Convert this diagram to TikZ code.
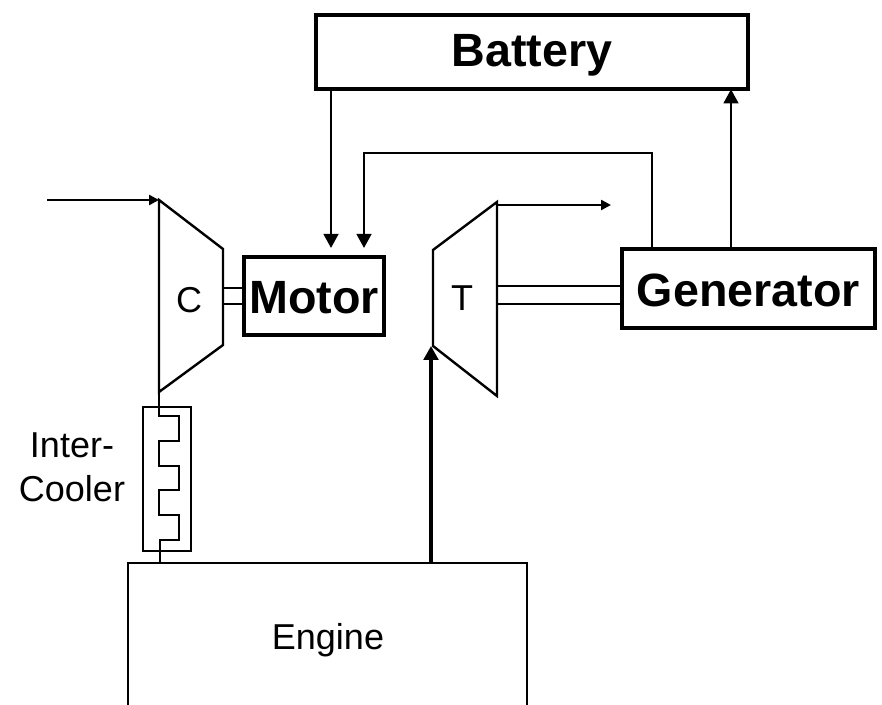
\documentclass[tikz,border=0pt]{standalone}
\usepackage{fontspec}
\setmainfont{Liberation Sans}
\usetikzlibrary{arrows.meta,positioning,calc}

\begin{document}
\begin{tikzpicture}[x=0.75pt,y=-0.75pt,>={Triangle[length=10.5pt,width=11pt]},
   line width=1.8pt,
   unit/.style={draw,line width=3pt,font=\fontsize{35}{40}\selectfont\bfseries,inner sep=0pt,outer sep=0pt,text depth=0pt},
   plain/.style={font=\fontsize{27}{33}\selectfont,align=center,inner sep=0pt,anchor=base},
   small/.style={-{Triangle[length=7.5pt,width=7.5pt]}},
   pipe/.style={line width=2.4pt}]
  \useasboundingbox (0,0) rectangle (882,705);
  % boxes
  \node[unit,text height=22.5pt,minimum width=324pt,minimum height=56pt] (battery) at (532,52) {Battery};
  \node[unit,text height=27pt,minimum width=105pt,minimum height=58pt] (motor) at (314,296) {Motor};
  \node[unit,text height=27.75pt,minimum width=190pt,minimum height=59pt] (generator) at (748.5,288.5) {Generator};
  \node[plain] (comp) at (189,313) {C};
  \node[plain] (turb) at (462,311) {T};
  \node[plain] (cooler) at (72,502) {Inter-\\Cooler};
  \node[plain] (engine) at (328,649) {Engine};
  % compressor and turbine
  \coordinate (compa) at (159,200);
  \coordinate (compb) at (223,249);
  \coordinate (compc) at (223,345);
  \coordinate (compd) at (159,392);
  \coordinate (turba) at (497,202);
  \coordinate (turbb) at (433,250);
  \coordinate (turbc) at (433,346);
  \coordinate (turbd) at (497,396);
  \draw (compa) -- (compb) -- (compc) -- (compd) -- cycle;
  \draw (turba) -- (turbb) -- (turbc) -- (turbd) -- cycle;
  % engine, open at the bottom
  \coordinate (engl) at (128,705);
  \coordinate (engr) at (527,705);
  \draw (engl) |- (engr |- 0,563) coordinate (engtr) -- (engr);
  % intercooler
  \node[draw,minimum width=36pt,minimum height=108pt,inner sep=0pt] (ic) at (167,479) {};
  \draw (compd) -- (159,416) -- (179,416) -- (179,441) -- (159,441) -- (159,466)
    -- (179,466) -- (179,490) -- (159,490) -- (159,515) -- (179,515) -- (179,540)
    -- (160,540) -- (160,563);
  % shafts
  \draw (223,288) -- (motor.west |- 0,288);
  \draw (223,304) -- (motor.west |- 0,304);
  \draw (497,286) -- (generator.west |- 0,286);
  \draw (497,304) -- (generator.west |- 0,304);
  % flows
  \coordinate (airin) at (47,200);
  \coordinate (exhaust) at (611,205);
  \coordinate (motorl) at (331,248);
  \coordinate (motorr) at (364,248);
  \draw[small] (airin) -- (compa);
  \draw[small] (497,205) -- (exhaust);
  \draw[->,pipe] (431,563) -- (431,346);
  \draw[->] (battery.south -| motorl) -- (motorl);
  \draw[->] (generator.north -| 652,0) |- (364,153) -- (motorr);
  \draw[->] (generator.north -| 731,0) -- (battery.south -| 731,0);
\end{tikzpicture}
\end{document}
